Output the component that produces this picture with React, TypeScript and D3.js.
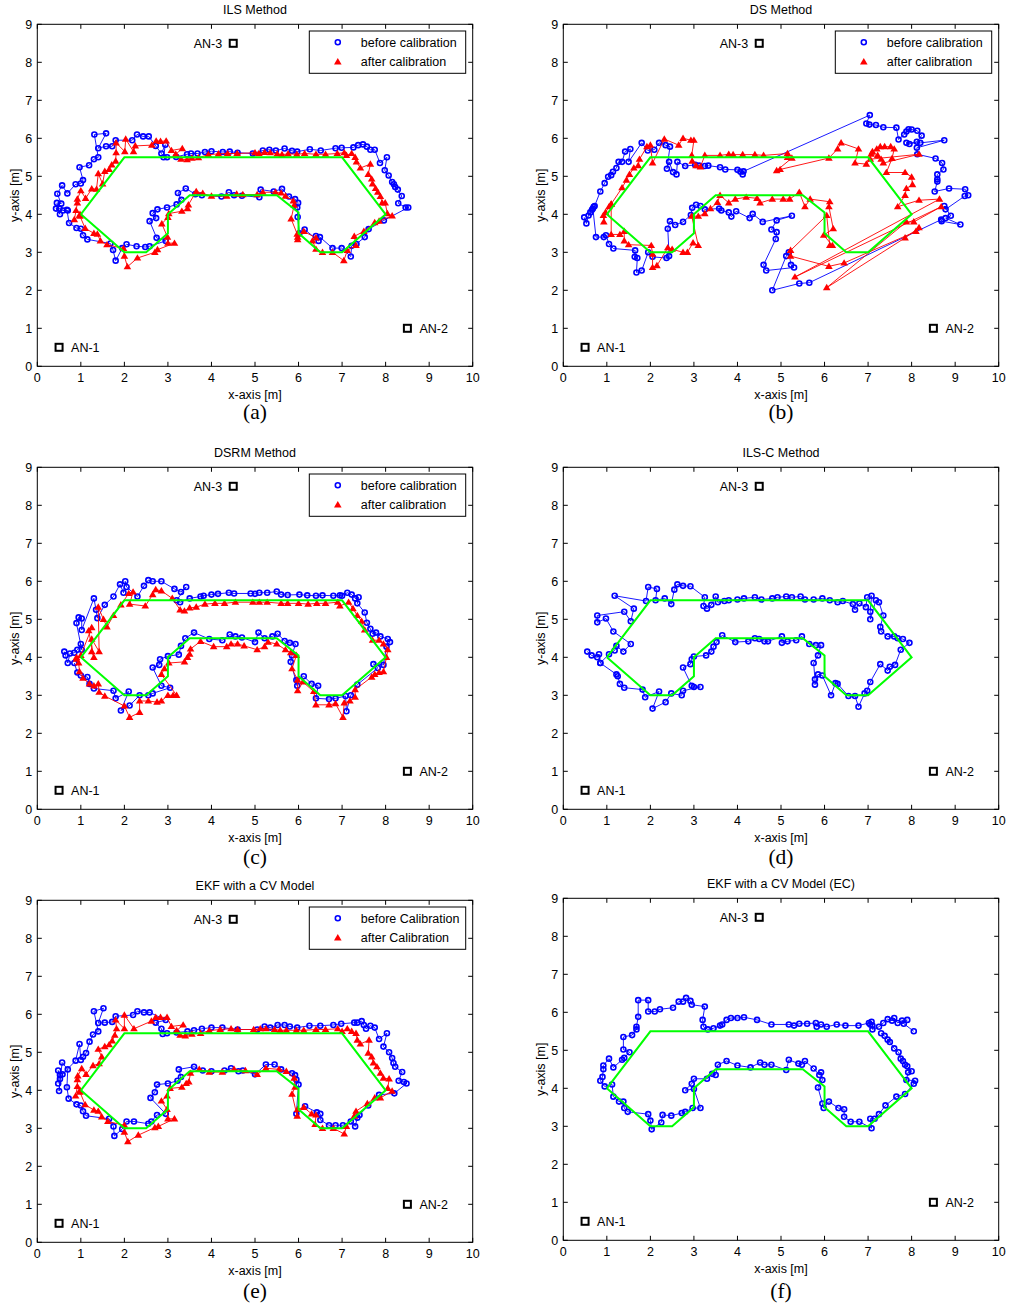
import React from 'react';
import * as d3 from 'd3';

type P = [number, number];

const xTicks = [0, 1, 2, 3, 4, 5, 6, 7, 8, 9, 10];
const yTicks = [0, 1, 2, 3, 4, 5, 6, 7, 8, 9];
const truthX = [1, 2, 7, 8, 7, 6.5, 6, 6, 5.5, 3.5, 3, 3, 2.5, 2, 1];
const truthY = [4, 5.5, 5.5, 4, 3, 3, 3.5, 4.05, 4.5, 4.5, 4, 3.5, 3, 3, 4];
const anchorX = [0.5, 8.5, 4.5];
const anchorY = [0.5, 1, 8.5];
const anchorNames = ['AN-1', 'AN-2', 'AN-3'];
const legendLower = ['before calibration', 'after calibration'];
const legendUpper = ['before Calibration', 'after Calibration'];

const ilsBefore: P[] = [[0.70,4.10],[0.59,4.10],[0.51,4.15],[0.43,4.15],[0.52,4.00],[0.45,4.30],[0.55,4.28],[0.46,4.54],[0.57,4.76],[0.69,4.55],[0.88,4.79],[1.00,4.81],[1.05,4.90],[0.97,5.24],[1.19,5.29],[1.30,5.45],[1.40,5.50],[1.31,6.10],[1.58,6.13],[1.40,5.74],[1.58,5.79],[1.72,5.79],[1.80,5.95],[2.18,5.95],[2.29,6.10],[2.43,6.05],[2.56,6.05],[2.72,5.80],[2.85,5.60],[2.94,5.83],[2.90,5.50],[2.98,5.50],[3.19,5.51],[3.44,5.58],[3.53,5.60],[3.68,5.60],[3.85,5.64],[4.00,5.66],[4.26,5.64],[4.42,5.65],[4.60,5.62],[4.95,5.60],[5.18,5.68],[5.33,5.70],[5.48,5.68],[5.68,5.73],[5.85,5.67],[5.97,5.65],[6.26,5.71],[6.51,5.68],[6.85,5.74],[6.99,5.75],[7.26,5.76],[7.37,5.82],[7.48,5.84],[7.57,5.78],[7.65,5.70],[7.75,5.70],[7.87,5.35],[8.03,5.50],[7.98,5.16],[8.07,5.02],[8.15,4.85],[8.19,4.79],[8.22,4.72],[8.28,4.65],[8.37,4.48],[8.29,4.29],[8.46,4.18],[8.52,4.18],[7.96,3.84],[7.61,3.61],[7.52,3.40],[7.33,3.22],[7.22,3.17],[7.20,2.89],[6.99,3.11],[6.78,3.11],[6.49,3.40],[6.40,3.43],[6.46,3.30],[6.14,3.60],[6.02,3.50],[5.98,3.93],[5.97,4.18],[5.99,4.30],[5.92,4.40],[5.78,4.47],[5.62,4.67],[5.43,4.60],[5.13,4.65],[5.10,4.45],[4.70,4.49],[4.52,4.50],[4.40,4.58],[4.23,4.47],[3.78,4.50],[3.63,4.53],[3.41,4.68],[3.23,4.56],[3.31,4.38],[3.20,4.26],[2.98,4.18],[2.76,4.13],[2.65,4.03],[2.73,3.90],[2.58,3.82],[2.74,3.38],[2.95,3.30],[2.58,3.16],[2.48,3.14],[2.28,3.16],[2.05,3.21],[1.95,3.11],[1.80,2.78],[1.74,3.06],[1.68,3.23],[1.15,3.34],[1.05,3.45],[1.00,3.62],[0.90,3.64],[0.73,3.77],[0.68,4.12]];

const ilsAfter: P[] = [[0.98,4.00],[0.85,3.86],[0.89,4.10],[0.92,4.30],[0.92,4.40],[1.00,4.62],[1.11,4.42],[1.25,4.67],[1.36,4.66],[1.40,5.07],[1.50,4.80],[1.55,5.13],[1.65,5.18],[1.71,5.30],[1.80,5.40],[1.81,5.62],[1.81,5.88],[2.01,5.65],[2.03,5.98],[2.21,5.65],[2.25,5.80],[2.63,5.82],[2.73,5.93],[2.83,5.92],[2.96,5.93],[3.08,5.68],[3.33,5.73],[3.18,5.58],[3.30,5.45],[3.44,5.44],[3.55,5.48],[3.70,5.49],[3.93,5.57],[4.16,5.59],[4.37,5.60],[4.59,5.60],[5.00,5.62],[5.09,5.60],[5.22,5.63],[5.35,5.62],[5.51,5.59],[5.62,5.57],[5.76,5.59],[5.96,5.58],[6.14,5.60],[6.40,5.58],[6.62,5.58],[6.89,5.60],[7.05,5.62],[7.10,5.55],[7.22,5.60],[7.30,5.50],[7.33,5.38],[7.42,5.22],[7.65,5.32],[7.60,5.05],[7.68,4.93],[7.70,4.80],[7.77,4.68],[7.82,4.58],[7.88,4.47],[7.92,4.30],[7.99,4.30],[8.04,4.02],[8.15,3.96],[7.85,3.82],[7.75,3.78],[7.50,3.55],[7.28,3.42],[7.32,3.18],[7.12,3.05],[7.04,2.78],[6.78,3.00],[6.55,3.00],[6.40,3.08],[6.32,3.30],[6.40,3.38],[6.12,3.55],[5.98,3.40],[5.98,3.33],[5.97,3.48],[5.83,3.88],[5.90,4.24],[5.88,4.35],[5.70,4.48],[5.60,4.56],[5.47,4.58],[5.18,4.58],[5.05,4.52],[4.72,4.52],[4.58,4.53],[4.35,4.48],[4.00,4.48],[3.80,4.55],[3.65,4.60],[3.47,4.25],[3.45,4.15],[3.32,4.08],[3.02,4.02],[3.00,3.92],[2.86,3.75],[2.99,3.40],[3.00,3.24],[3.15,3.24],[2.76,3.07],[2.70,3.00],[2.30,2.85],[2.07,2.62],[2.00,2.90],[1.98,3.10],[1.60,3.20],[1.45,3.30],[1.38,3.48],[1.30,3.50],[1.10,3.63],[0.98,3.95]];

const dsBefore: P[] = [[0.48,3.92],[0.53,3.76],[0.58,3.97],[0.62,4.05],[0.66,4.12],[0.70,4.20],[0.72,4.22],[0.85,4.60],[0.95,4.82],[1.03,4.99],[1.10,5.03],[1.14,5.12],[1.22,5.22],[1.27,5.38],[1.35,5.38],[1.42,5.65],[1.54,5.72],[1.50,5.38],[1.80,5.88],[1.94,5.68],[2.09,5.70],[2.20,5.88],[2.35,5.82],[2.45,5.78],[2.38,5.20],[2.43,5.38],[2.52,5.11],[2.60,5.05],[2.62,5.38],[2.80,5.27],[3.03,5.30],[3.12,5.28],[3.25,5.27],[3.33,5.28],[3.60,5.24],[3.72,5.18],[4.00,5.17],[4.07,5.12],[4.12,5.05],[4.14,5.13],[7.04,6.61],[6.96,6.39],[7.03,6.36],[7.18,6.35],[7.35,6.29],[7.65,6.28],[7.70,5.97],[7.83,6.10],[7.88,6.18],[7.93,6.24],[8.00,6.23],[8.13,6.20],[8.23,6.07],[8.12,5.91],[7.95,5.85],[7.88,5.88],[8.20,5.88],[8.75,5.95],[8.12,5.75],[8.13,5.58],[8.55,5.47],[8.70,5.35],[8.73,5.18],[8.59,5.05],[8.59,4.92],[8.59,4.86],[8.53,4.60],[8.86,4.68],[9.23,4.66],[9.30,4.50],[9.22,4.48],[8.78,4.13],[8.75,4.22],[8.90,3.96],[8.78,3.90],[9.12,3.73],[8.69,3.82],[8.68,3.86],[5.65,2.20],[5.42,2.18],[4.80,2.00],[5.12,2.90],[5.18,3.00],[5.23,2.67],[5.30,2.60],[4.66,2.52],[4.60,2.67],[4.88,3.35],[4.90,3.53],[4.78,3.60],[4.90,3.84],[5.25,3.96],[4.58,3.80],[4.35,4.01],[4.28,3.90],[3.97,4.08],[3.86,3.94],[3.80,4.05],[3.63,4.10],[3.58,4.15],[3.25,4.13],[3.15,4.22],[3.05,4.25],[2.96,4.17],[2.93,3.98],[2.75,3.80],[2.57,3.72],[2.45,3.82],[2.40,3.62],[2.43,2.90],[2.37,2.85],[2.05,2.88],[1.95,3.00],[1.80,2.52],[1.68,2.47],[1.70,2.85],[1.64,2.88],[1.65,3.05],[1.15,3.10],[1.05,3.22],[0.98,3.45],[0.93,3.40],[0.75,3.40],[0.68,4.15]];

const dsAfter: P[] = [[0.92,3.97],[0.93,3.80],[0.97,4.05],[1.05,4.20],[1.10,4.27],[1.10,3.47],[1.30,3.47],[1.40,3.55],[1.40,3.30],[1.50,3.20],[2.02,3.18],[2.05,2.95],[2.05,2.60],[2.15,2.65],[2.40,3.12],[2.50,3.08],[2.75,3.00],[2.85,3.00],[2.98,3.25],[3.10,3.18],[2.95,3.95],[3.10,3.95],[3.25,4.02],[3.38,4.15],[3.54,4.31],[3.60,4.50],[3.80,4.30],[3.95,4.40],[4.20,4.45],[4.45,4.42],[4.52,4.30],[4.80,4.40],[5.05,4.40],[5.20,4.40],[5.42,4.58],[5.55,4.20],[5.67,4.40],[6.12,4.33],[6.10,4.20],[6.20,3.62],[5.98,3.45],[6.18,3.18],[6.12,3.18],[6.05,3.97],[5.22,3.05],[5.22,2.90],[6.10,2.63],[6.45,2.72],[8.10,3.55],[8.17,3.65],[7.85,3.38],[6.05,2.07],[7.88,3.80],[8.05,3.80],[8.68,4.20],[5.32,2.35],[8.64,4.40],[8.17,4.37],[7.68,4.20],[7.85,4.50],[7.88,4.68],[8.02,4.78],[8.00,4.98],[7.85,5.10],[7.42,5.10],[7.55,5.47],[7.60,5.72],[7.52,5.78],[7.38,5.78],[7.28,5.78],[7.20,5.72],[7.10,5.65],[7.07,5.58],[7.22,5.55],[7.30,5.45],[7.35,5.35],[8.17,5.58],[7.05,5.45],[6.96,5.32],[6.70,5.35],[6.78,5.72],[6.38,5.88],[6.30,5.72],[6.10,5.48],[4.98,5.18],[4.90,5.15],[5.25,5.48],[5.15,5.50],[5.15,5.60],[4.60,5.55],[4.40,5.57],[4.12,5.57],[3.90,5.57],[3.80,5.58],[3.60,5.55],[3.25,5.55],[3.15,5.25],[3.05,5.28],[2.96,5.40],[2.95,5.55],[3.00,5.95],[2.93,5.95],[2.75,6.00],[2.65,5.82],[2.32,5.98],[2.05,5.35],[2.00,5.82],[1.92,5.78],[1.75,5.45],[1.72,5.28],[1.62,5.22],[1.52,5.05],[1.45,4.90],[1.35,4.70],[1.10,4.27]];

const dsrmBefore: P[] = [[0.62,4.15],[0.65,4.05],[0.70,3.85],[0.75,4.10],[0.85,4.12],[0.92,4.20],[1.00,4.35],[1.02,4.20],[0.90,4.90],[0.95,5.05],[1.02,5.02],[1.02,4.72],[1.30,5.55],[1.35,5.25],[1.38,5.03],[1.55,5.38],[1.75,5.60],[1.90,5.92],[1.98,5.70],[2.02,6.00],[2.05,5.85],[2.30,5.60],[2.45,5.88],[2.55,6.03],[2.65,6.00],[2.85,6.00],[3.15,5.80],[3.30,5.72],[3.42,5.85],[3.20,5.50],[3.28,5.45],[3.50,5.55],[3.75,5.60],[3.82,5.62],[4.00,5.65],[4.15,5.67],[4.40,5.70],[4.52,5.68],[4.90,5.68],[5.00,5.67],[5.10,5.70],[5.28,5.70],[5.50,5.73],[5.60,5.65],[5.75,5.64],[6.02,5.65],[6.20,5.63],[6.40,5.62],[6.55,5.63],[6.80,5.62],[6.95,5.63],[7.00,5.62],[7.12,5.70],[7.22,5.65],[7.30,5.55],[7.38,5.58],[7.35,5.42],[7.52,5.18],[7.57,4.91],[7.65,4.75],[7.70,4.62],[7.78,4.65],[7.88,4.55],[8.05,4.48],[8.10,4.40],[8.02,4.28],[7.95,3.80],[7.72,3.82],[7.82,3.72],[7.35,3.28],[7.20,3.00],[7.10,2.58],[7.08,2.98],[6.85,2.92],[6.70,2.90],[6.40,2.92],[6.45,3.25],[6.30,3.30],[6.12,3.50],[5.95,3.40],[5.97,3.25],[5.82,3.88],[5.85,4.05],[5.93,4.35],[5.80,4.38],[5.68,4.43],[5.52,4.62],[5.40,4.55],[5.22,4.50],[5.08,4.65],[5.00,4.40],[4.70,4.52],[4.55,4.55],[4.42,4.60],[4.25,4.45],[3.95,4.48],[3.60,4.65],[3.40,4.50],[3.30,4.30],[3.25,4.07],[3.00,4.03],[2.82,3.95],[2.80,3.80],[2.65,3.73],[2.85,3.25],[3.05,3.20],[2.65,3.05],[2.55,3.00],[2.35,3.00],[2.12,2.73],[1.92,2.60],[2.10,3.10],[1.80,2.92],[1.75,3.12],[1.30,3.18],[1.20,3.30],[1.15,3.48],[1.00,3.52],[0.92,3.60],[0.85,3.85]];

const dsrmAfter: P[] = [[0.90,3.95],[0.95,3.85],[0.97,3.62],[1.05,3.45],[1.20,3.30],[1.30,3.25],[1.40,3.30],[1.42,3.08],[1.55,2.98],[2.00,2.72],[2.12,2.42],[2.35,2.55],[2.35,2.85],[2.55,2.85],[2.75,2.82],[2.85,2.85],[3.00,3.00],[3.12,3.00],[3.20,3.00],[2.85,3.55],[2.92,3.70],[3.02,3.85],[3.38,3.88],[3.45,4.00],[3.50,4.08],[3.52,4.22],[3.75,4.42],[4.05,4.28],[4.35,4.28],[4.45,4.35],[4.60,4.35],[4.75,4.30],[5.05,4.20],[5.22,4.28],[5.30,4.40],[5.50,4.35],[5.70,4.20],[5.82,4.12],[5.95,4.05],[5.85,3.70],[5.98,3.40],[5.98,3.12],[6.10,3.35],[6.35,3.10],[6.40,2.75],[6.70,2.75],[6.85,2.78],[7.02,2.42],[7.05,2.80],[7.18,2.85],[7.30,2.95],[7.30,3.15],[7.68,3.48],[7.75,3.55],[7.85,3.60],[7.95,3.62],[8.02,4.00],[8.05,4.20],[7.95,4.35],[7.85,4.45],[7.70,4.45],[7.52,4.72],[7.45,4.95],[7.35,5.10],[7.25,5.28],[7.15,5.45],[6.95,5.35],[6.90,5.45],[6.62,5.42],[6.42,5.42],[6.22,5.40],[6.00,5.42],[5.75,5.42],[5.60,5.42],[5.28,5.45],[5.10,5.45],[4.95,5.45],[4.55,5.45],[4.30,5.42],[4.08,5.42],[3.85,5.40],[3.65,5.32],[3.50,5.30],[3.38,5.22],[3.28,5.25],[3.10,5.55],[2.85,5.75],[2.72,5.78],[2.65,5.65],[2.48,5.35],[2.12,5.40],[2.20,5.72],[2.10,5.68],[1.92,5.38],[1.75,5.10],[1.60,4.80],[1.52,5.00],[1.40,5.32],[1.42,4.15],[1.25,4.48],[1.25,4.15],[1.30,4.00],[1.18,4.70],[1.25,4.78],[1.00,4.05],[0.90,4.00]];

const ilscBefore: P[] = [[0.55,4.15],[0.65,4.05],[0.78,4.00],[0.82,4.08],[0.85,3.85],[1.05,4.08],[1.18,4.18],[1.22,4.30],[1.38,4.15],[1.55,4.35],[1.15,4.68],[0.98,5.02],[0.78,4.92],[0.78,5.10],[1.40,5.20],[1.55,4.95],[1.62,5.28],[1.18,5.62],[1.90,5.48],[1.95,5.85],[2.15,5.80],[2.12,5.50],[2.33,5.55],[2.48,5.40],[2.55,5.78],[2.62,5.92],[2.75,5.88],[2.92,5.87],[3.25,5.58],[3.22,5.35],[3.30,5.28],[3.40,5.38],[3.50,5.60],[3.55,5.45],[3.70,5.48],[3.80,5.50],[4.00,5.52],[4.15,5.55],[4.40,5.58],[4.55,5.52],[4.80,5.55],[4.92,5.58],[5.12,5.60],[5.25,5.58],[5.45,5.60],[5.55,5.52],[5.75,5.52],[5.95,5.55],[6.12,5.50],[6.30,5.45],[6.42,5.48],[6.65,5.40],[6.70,5.25],[6.80,5.42],[6.95,5.32],[6.98,5.58],[7.08,5.62],[7.05,5.20],[7.05,5.00],[7.18,5.50],[7.25,5.45],[7.35,5.10],[7.28,4.80],[7.30,4.68],[7.45,4.55],[7.60,4.55],[7.68,4.50],[7.80,4.48],[7.95,4.38],[7.75,4.20],[7.62,3.80],[7.50,3.75],[7.45,3.65],[7.28,3.82],[7.05,3.35],[6.98,3.12],[6.92,3.05],[6.78,2.70],[6.70,2.98],[6.55,2.98],[6.30,3.30],[6.25,3.32],[6.15,3.00],[5.95,3.52],[5.85,3.55],[5.78,3.28],[5.78,3.42],[5.75,3.85],[5.85,4.05],[5.92,4.32],[5.80,4.32],[5.65,4.35],[5.48,4.55],[5.35,4.45],[5.15,4.42],[5.02,4.38],[5.02,4.55],[4.70,4.42],[4.62,4.42],[4.50,4.48],[4.40,4.50],[4.25,4.42],[3.95,4.40],[3.65,4.58],[3.52,4.40],[3.45,4.28],[3.40,4.15],[3.28,4.05],[3.00,4.02],[2.95,3.95],[2.92,3.82],[2.75,3.73],[2.95,3.25],[3.00,3.22],[3.15,3.22],[2.75,3.12],[2.72,3.00],[2.48,3.05],[2.35,2.82],[2.05,2.65],[2.20,3.10],[1.88,2.95],[1.82,3.15],[1.40,3.20],[1.30,3.30],[1.25,3.50],[1.22,3.55],[0.85,3.85]];

const ekfBefore: P[] = [[0.48,4.18],[0.48,4.52],[0.52,4.40],[0.52,4.30],[0.50,3.98],[0.57,4.73],[0.70,4.55],[0.68,4.08],[0.72,3.78],[0.90,3.63],[1.00,3.60],[1.05,3.45],[1.12,3.33],[1.65,3.25],[1.75,3.05],[1.77,2.80],[1.95,2.98],[2.05,3.18],[2.22,3.18],[2.55,3.12],[2.62,3.18],[2.75,3.35],[2.95,3.38],[2.60,3.80],[2.70,3.95],[2.75,4.15],[3.00,4.18],[3.22,4.25],[3.30,4.35],[3.25,4.55],[3.60,4.62],[3.80,4.52],[4.00,4.50],[4.30,4.52],[4.45,4.58],[4.62,4.50],[4.72,4.52],[5.00,4.42],[5.25,4.68],[5.45,4.68],[5.60,4.55],[5.85,4.45],[5.92,4.40],[5.95,4.28],[6.00,4.15],[5.95,3.38],[6.15,3.58],[6.42,3.42],[6.50,3.38],[6.50,3.22],[6.70,3.08],[6.85,3.08],[7.02,3.08],[7.20,3.18],[7.30,3.05],[7.35,3.28],[7.40,3.35],[7.60,3.60],[7.85,3.88],[8.20,3.92],[8.48,4.18],[8.42,4.22],[8.30,4.25],[8.38,4.48],[8.22,4.62],[8.18,4.72],[8.15,4.85],[8.08,5.00],[7.95,5.15],[8.03,5.50],[7.85,5.35],[7.75,5.65],[7.65,5.70],[7.55,5.62],[7.50,5.72],[7.45,5.82],[7.35,5.78],[7.28,5.78],[6.98,5.75],[6.80,5.72],[6.50,5.70],[6.25,5.70],[5.97,5.65],[5.80,5.68],[5.68,5.72],[5.52,5.72],[5.35,5.65],[5.22,5.68],[5.05,5.60],[4.60,5.60],[4.25,5.65],[4.00,5.65],[3.78,5.62],[3.60,5.58],[3.45,5.55],[3.20,5.52],[2.98,5.50],[2.88,5.48],[2.85,5.62],[2.72,5.78],[2.95,5.85],[2.58,6.05],[2.45,6.05],[2.30,6.08],[2.20,5.98],[1.80,5.95],[1.72,5.80],[1.55,5.78],[1.40,5.77],[1.52,6.16],[1.30,6.08],[1.40,5.55],[1.28,5.47],[1.20,5.28],[1.12,4.98],[1.05,4.88],[1.00,4.80],[0.97,5.22],[0.88,4.78],[0.58,4.42]];

const ekfAfter: P[] = [[0.98,4.00],[0.88,3.85],[0.92,4.10],[0.92,4.28],[0.93,4.38],[1.02,4.57],[1.12,4.42],[1.28,4.65],[1.42,4.70],[1.48,4.88],[1.40,5.08],[1.55,5.15],[1.65,5.20],[1.72,5.30],[1.78,5.45],[1.82,5.62],[1.80,5.85],[2.00,5.62],[2.00,5.98],[2.22,5.62],[2.62,5.82],[2.72,5.92],[2.83,5.92],[2.98,5.92],[3.08,5.68],[3.35,5.72],[3.20,5.57],[3.28,5.45],[3.40,5.43],[3.55,5.48],[3.75,5.50],[3.95,5.57],[4.20,5.60],[4.45,5.62],[4.60,5.60],[4.97,5.60],[5.12,5.62],[5.25,5.62],[5.45,5.60],[5.58,5.58],[5.72,5.58],[5.95,5.58],[6.12,5.58],[6.40,5.60],[6.62,5.60],[6.90,5.62],[7.00,5.55],[7.12,5.62],[7.22,5.55],[7.32,5.50],[7.35,5.32],[7.42,5.22],[7.62,5.32],[7.60,4.98],[7.68,4.88],[7.72,4.72],[7.80,4.62],[7.88,4.45],[7.95,4.32],[8.08,4.30],[8.05,4.05],[8.15,3.98],[7.88,3.80],[7.75,3.80],[7.58,3.65],[7.32,3.45],[7.28,3.32],[7.10,3.05],[7.05,2.85],[6.80,3.00],[6.55,3.00],[6.38,3.10],[6.40,3.35],[6.30,3.38],[6.12,3.55],[5.98,3.50],[5.97,3.32],[5.85,3.90],[5.92,4.08],[5.90,4.32],[5.72,4.50],[5.55,4.55],[5.25,4.58],[5.05,4.42],[4.78,4.52],[4.52,4.55],[4.25,4.48],[3.95,4.48],[3.72,4.55],[3.52,4.45],[3.48,4.22],[3.42,4.18],[3.32,4.08],[3.05,4.05],[2.98,3.85],[2.85,3.72],[2.98,3.50],[3.00,3.25],[3.15,3.25],[2.78,3.05],[2.70,3.02],[2.32,2.82],[2.08,2.65],[2.00,2.90],[2.00,3.08],[1.62,3.18],[1.48,3.30],[1.40,3.45],[1.30,3.48],[1.10,3.62],[0.98,3.95]];

const ekfEcBefore: P[] = [[7.30,5.45],[7.38,5.38],[7.45,5.28],[7.50,5.22],[7.60,5.05],[7.70,4.95],[7.75,4.78],[7.80,4.72],[7.85,4.62],[7.90,4.58],[8.00,4.45],[7.92,4.42],[7.88,4.22],[8.08,4.20],[8.05,4.12],[7.85,3.85],[7.65,3.78],[7.40,3.55],[7.25,3.32],[7.15,3.20],[7.05,3.20],[7.08,2.95],[6.80,3.12],[6.60,3.12],[6.45,3.25],[6.45,3.45],[6.32,3.48],[6.10,3.65],[5.98,3.48],[5.95,3.60],[5.85,4.02],[5.95,4.22],[5.92,4.42],[5.88,4.35],[5.75,4.52],[5.55,4.72],[5.48,4.62],[5.40,4.65],[5.18,4.75],[5.12,4.48],[4.78,4.62],[4.62,4.62],[4.52,4.68],[4.30,4.55],[4.00,4.60],[3.75,4.72],[3.55,4.62],[3.50,4.35],[3.42,4.38],[3.30,4.25],[3.00,4.25],[2.95,4.12],[2.80,3.95],[3.00,3.98],[3.15,3.48],[2.97,3.48],[2.80,3.38],[2.72,3.35],[2.48,3.28],[2.28,3.30],[2.25,3.10],[2.03,2.92],[2.00,3.15],[1.95,3.32],[1.48,3.38],[1.40,3.48],[1.38,3.65],[1.28,3.65],[1.15,3.78],[1.12,4.10],[0.95,4.05],[0.85,4.20],[0.90,4.30],[0.92,4.50],[0.92,4.60],[1.05,4.78],[1.15,4.55],[1.35,4.75],[1.40,4.80],[1.52,4.95],[1.38,5.02],[1.38,5.35],[1.58,5.40],[1.68,5.55],[1.68,5.62],[1.72,5.88],[1.72,6.32],[1.95,6.32],[1.95,6.02],[2.10,6.02],[2.22,6.08],[2.52,6.12],[2.65,6.28],[2.75,6.28],[2.82,6.38],[2.92,6.30],[2.95,6.20],[3.25,6.15],[3.20,5.80],[3.22,5.62],[3.32,5.55],[3.45,5.58],[3.60,5.65],[3.65,5.68],[3.75,5.80],[3.85,5.85],[4.00,5.85],[4.15,5.87],[4.45,5.80],[4.78,5.68],[5.18,5.68],[5.30,5.65],[5.42,5.70],[5.60,5.70],[5.80,5.72],[5.82,5.62],[5.92,5.68],[6.05,5.62],[6.28,5.68],[6.48,5.65],[6.78,5.65],[7.02,5.72],[7.05,5.68],[7.08,5.75],[7.10,5.65],[7.10,5.55],[7.25,5.62],[7.35,5.72],[7.45,5.82],[7.55,5.78],[7.60,5.85],[7.68,5.72],[7.78,5.78],[7.90,5.80],[7.82,5.70],[8.05,5.50]];

const W = 435.4;
const H = 342;
const FONT = "Arial, 'Liberation Sans', sans-serif";
const SERIF = "'Times New Roman', 'Liberation Serif', serif";

type PanelProps = {
  left: number; top: number; title: string; caption: string; captionY: number;
  before: P[]; after?: P[]; legend?: string[];
};

function Panel({ left, top, title, caption, captionY, before, after, legend }: PanelProps) {
  const x = d3.scaleLinear().domain([0, 10]).range([left, left + W]);
  const y = d3.scaleLinear().domain([0, 9]).range([top + H, top]);
  const line = d3.line<P>().x(d => x(d[0])).y(d => y(d[1]));
  const truth: P[] = truthX.map((v, i) => [v, truthY[i]] as P);
  const tri = (cx: number, cy: number) => `M${cx},${cy - 3.8}L${cx + 3.8},${cy + 2.6}L${cx - 3.8},${cy + 2.6}Z`;
  const bottom = top + H;
  const tl = 4.5;
  return (
    <g>
      <rect x={left} y={top} width={W} height={H} fill="#fff" stroke="none" />
      <path d={line(before) || ''} fill="none" stroke="#0000ff" strokeWidth={0.9} />
      {before.map((d, i) => (
        <circle key={'b' + i} cx={x(d[0])} cy={y(d[1])} r={2.5} fill="none" stroke="#0000ff" strokeWidth={1.6} />
      ))}
      {after && <path d={line(after) || ''} fill="none" stroke="#ff0000" strokeWidth={0.9} />}
      {after && after.map((d, i) => <path key={'a' + i} d={tri(x(d[0]), y(d[1]))} fill="#ff0000" />)}
      <path d={line(truth) || ''} fill="none" stroke="#00ff00" strokeWidth={2} />
      {anchorX.map((ax, i) => (
        <g key={'an' + i}>
          <rect x={x(ax) - 3.5} y={y(anchorY[i]) - 3.5} width={7} height={7} fill="none" stroke="#000" strokeWidth={2} />
          <text x={i === 2 ? x(ax) - 11 : x(ax) + 12} y={y(anchorY[i]) + 4.5} fontSize={12.5} fontFamily={FONT}
            textAnchor={i === 2 ? 'end' : 'start'}>{anchorNames[i]}</text>
        </g>
      ))}
      <rect x={left} y={top} width={W} height={H} fill="none" stroke="#000" strokeWidth={1} />
      {xTicks.map(t => (
        <g key={'xt' + t}>
          <line x1={x(t)} x2={x(t)} y1={bottom} y2={bottom - tl} stroke="#000" />
          <line x1={x(t)} x2={x(t)} y1={top} y2={top + tl} stroke="#000" />
          <text x={x(t)} y={bottom + 15.5} fontSize={12.5} fontFamily={FONT} textAnchor="middle">{t}</text>
        </g>
      ))}
      {yTicks.map(t => (
        <g key={'yt' + t}>
          <line x1={left} x2={left + tl} y1={y(t)} y2={y(t)} stroke="#000" />
          <line x1={left + W} x2={left + W - tl} y1={y(t)} y2={y(t)} stroke="#000" />
          <text x={left - 5} y={y(t) + 4.5} fontSize={12.5} fontFamily={FONT} textAnchor="end">{t}</text>
        </g>
      ))}
      {legend && (
        <g>
          <rect x={left + 272} y={top + 6.7} width={156.4} height={42.3} fill="#fff" stroke="#000" strokeWidth={1} />
          <circle cx={left + 300.5} cy={top + 18} r={2.5} fill="none" stroke="#0000ff" strokeWidth={1.6} />
          <path d={tri(left + 300.5, top + 37.6)} fill="#ff0000" />
          <text x={left + 323.5} y={top + 22.5} fontSize={12.5} fontFamily={FONT}>{legend[0]}</text>
          <text x={left + 323.5} y={top + 41.8} fontSize={12.5} fontFamily={FONT}>{legend[1]}</text>
        </g>
      )}
      <text x={left + W / 2} y={top - 10.5} fontSize={12.5} fontFamily={FONT} textAnchor="middle">{title}</text>
      <text x={left + W / 2} y={bottom + 32.5} fontSize={12.5} fontFamily={FONT} textAnchor="middle">x-axis [m]</text>
      <text transform={`translate(${left - 18},${top + H / 2}) rotate(-90)`} fontSize={12.5} fontFamily={FONT} textAnchor="middle">y-axis [m]</text>
      <text x={left + W / 2} y={captionY} fontSize={21.5} fontFamily={SERIF} textAnchor="middle">{caption}</text>
    </g>
  );
}

export default function App() {
  return (
    <svg width={1009} height={1307} style={{ position: 'absolute', left: 0, top: 0, background: '#fff' }}>
      <rect x={0} y={0} width={1009} height={1307} fill="#fff" />
      <Panel left={37.3} top={24.3} title="ILS Method" caption="(a)" captionY={418.5} before={ilsBefore} after={ilsAfter} legend={legendLower} />
      <Panel left={563.3} top={24.3} title="DS Method" caption="(b)" captionY={418.5} before={dsBefore} after={dsAfter} legend={legendLower} />
      <Panel left={37.3} top={467.3} title="DSRM Method" caption="(c)" captionY={864} before={dsrmBefore} after={dsrmAfter} legend={legendLower} />
      <Panel left={563.3} top={467.3} title="ILS-C Method" caption="(d)" captionY={864} before={ilscBefore} />
      <Panel left={37.3} top={900.3} title="EKF with a CV Model" caption="(e)" captionY={1298} before={ekfBefore} after={ekfAfter} legend={legendUpper} />
      <Panel left={563.3} top={898.3} title="EKF with a CV Model (EC)" caption="(f)" captionY={1298} before={ekfEcBefore} />
    </svg>
  );
}
